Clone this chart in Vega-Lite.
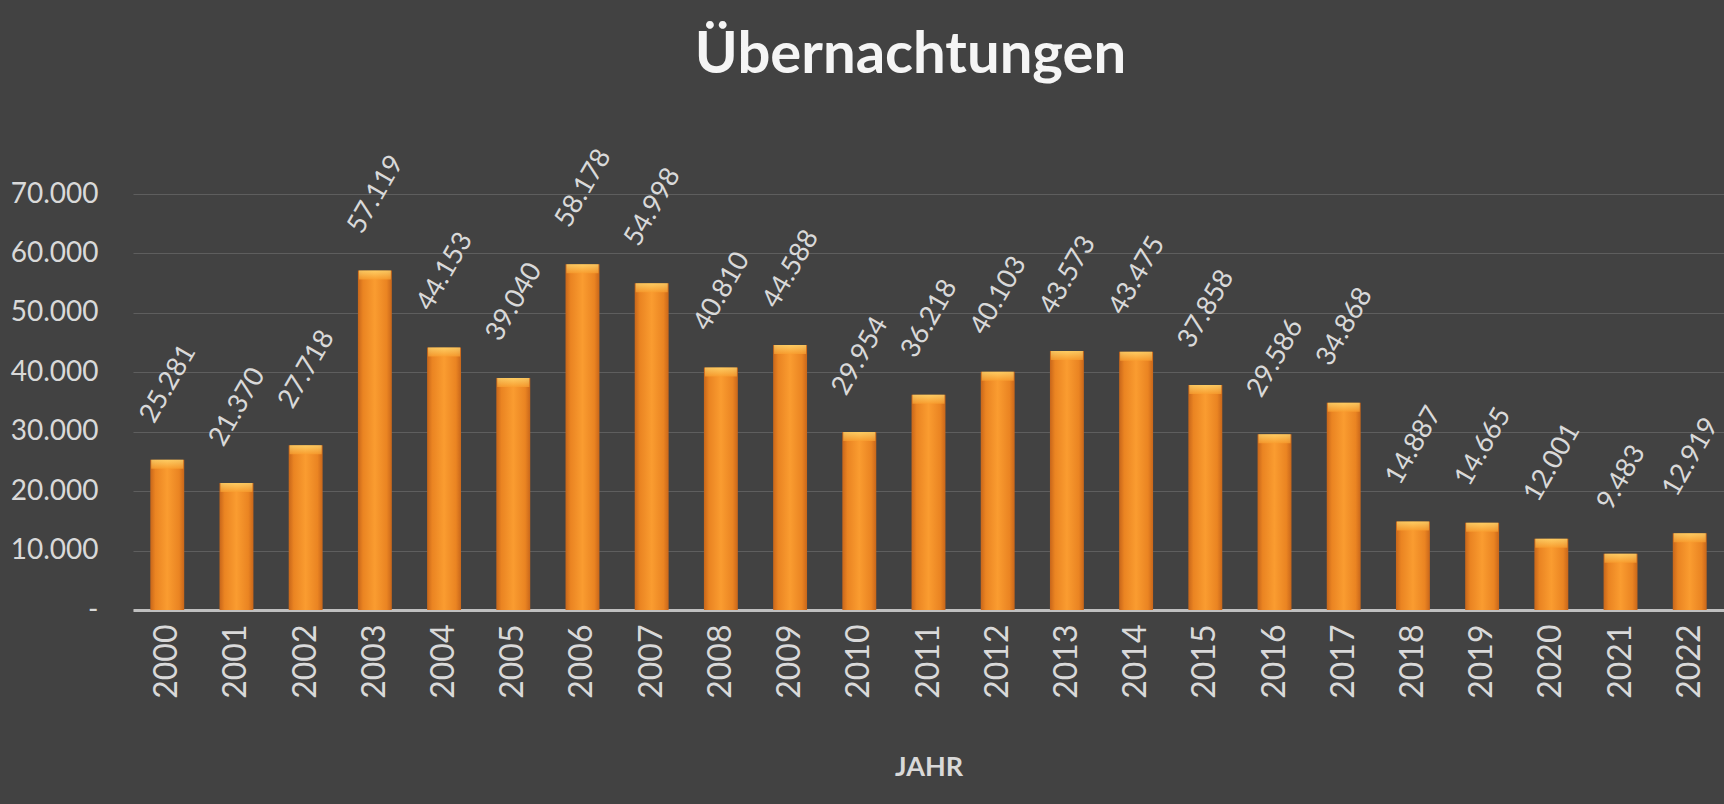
{
  "$schema": "https://vega.github.io/schema/vega-lite/v6.json",
  "autosize": {"type": "none"},
  "padding": {"left": 133, "top": 194, "right": 0, "bottom": 194},
  "width": 1591,
  "height": 416,
  "background": "#424242",
  "title": {
    "text": "Übernachtungen",
    "font": "Lato",
    "fontSize": 58,
    "fontWeight": "bold",
    "color": "#f5f5f5",
    "anchor": "middle",
    "frame": "group",
    "dx": -18,
    "dy": -40,
    "offset": 20
  },
  "config": {
    "locale": {"number": {"decimal": ",", "thousands": ".", "grouping": [3], "currency": ["", " €"]}},
    "view": {"stroke": null},
    "font": "Lato"
  },
  "data": {
    "values": [
      {"Jahr": "2000", "Uebernachtungen": 25281},
      {"Jahr": "2001", "Uebernachtungen": 21370},
      {"Jahr": "2002", "Uebernachtungen": 27718},
      {"Jahr": "2003", "Uebernachtungen": 57119},
      {"Jahr": "2004", "Uebernachtungen": 44153},
      {"Jahr": "2005", "Uebernachtungen": 39040},
      {"Jahr": "2006", "Uebernachtungen": 58178},
      {"Jahr": "2007", "Uebernachtungen": 54998},
      {"Jahr": "2008", "Uebernachtungen": 40810},
      {"Jahr": "2009", "Uebernachtungen": 44588},
      {"Jahr": "2010", "Uebernachtungen": 29954},
      {"Jahr": "2011", "Uebernachtungen": 36218},
      {"Jahr": "2012", "Uebernachtungen": 40103},
      {"Jahr": "2013", "Uebernachtungen": 43573},
      {"Jahr": "2014", "Uebernachtungen": 43475},
      {"Jahr": "2015", "Uebernachtungen": 37858},
      {"Jahr": "2016", "Uebernachtungen": 29586},
      {"Jahr": "2017", "Uebernachtungen": 34868},
      {"Jahr": "2018", "Uebernachtungen": 14887},
      {"Jahr": "2019", "Uebernachtungen": 14665},
      {"Jahr": "2020", "Uebernachtungen": 12001},
      {"Jahr": "2021", "Uebernachtungen": 9483},
      {"Jahr": "2022", "Uebernachtungen": 12919}
    ]
  },
  "encoding": {
    "x": {
      "field": "Jahr",
      "type": "ordinal",
      "scale": {"paddingInner": 0.51, "paddingOuter": 0.25},
      "axis": {
        "title": "JAHR",
        "titleFont": "Lato",
        "titleFontSize": 27,
        "titleFontWeight": "bold",
        "titleColor": "#d9d9d9",
        "titlePadding": 56,
        "labelAngle": -90,
        "labelAlign": "right",
        "labelBaseline": "middle",
        "labelFont": "Lato",
        "labelFontSize": 32,
        "labelColor": "#d9d9d9",
        "labelPadding": 14,
        "ticks": false,
        "tickSize": 0,
        "domainColor": "#bfbfbf",
        "domainWidth": 3,
        "grid": false
      }
    },
    "y": {
      "field": "Uebernachtungen",
      "type": "quantitative",
      "scale": {"domain": [0, 70000], "nice": false},
      "axis": {
        "title": null,
        "values": [0, 10000, 20000, 30000, 40000, 50000, 60000, 70000],
        "format": ",d",
        "labelExpr": "datum.value == 0 ? '-' : datum.label",
        "labelFont": "Lato",
        "labelFontSize": 28,
        "labelColor": "#d9d9d9",
        "labelPadding": 35,
        "ticks": false,
        "tickSize": 0,
        "domain": false,
        "grid": true,
        "gridColor": "#5e5e5e",
        "gridWidth": 1
      }
    }
  },
  "layer": [
    {
      "mark": {
        "type": "bar",
        "color": {
          "gradient": "linear",
          "x1": 0, "y1": 0, "x2": 1, "y2": 0,
          "stops": [
            {"offset": 0, "color": "#c8661a"},
            {"offset": 0.15, "color": "#ea8422"},
            {"offset": 0.5, "color": "#fa9c30"},
            {"offset": 0.85, "color": "#ea8422"},
            {"offset": 1, "color": "#c8661a"}
          ]
        }
      }
    },
    {
      "mark": {
        "type": "tick",
        "orient": "horizontal",
        "thickness": 9,
        "size": 32,
        "yOffset": 4.5,
        "color": {
          "gradient": "linear",
          "x1": 0, "y1": 0, "x2": 0, "y2": 1,
          "stops": [
            {"offset": 0, "color": "#ffe27a"},
            {"offset": 1, "color": "#f9a030"}
          ]
        }
      }
    },
    {
      "mark": {
        "type": "text",
        "angle": 300,
        "align": "center",
        "baseline": "middle",
        "font": "Lato",
        "fontSize": 27,
        "color": "#d9d9d9",
        "xOffset": 1,
        "yOffset": -76
      },
      "encoding": {
        "text": {"field": "Uebernachtungen", "type": "quantitative", "format": ",d"}
      }
    }
  ]
}
